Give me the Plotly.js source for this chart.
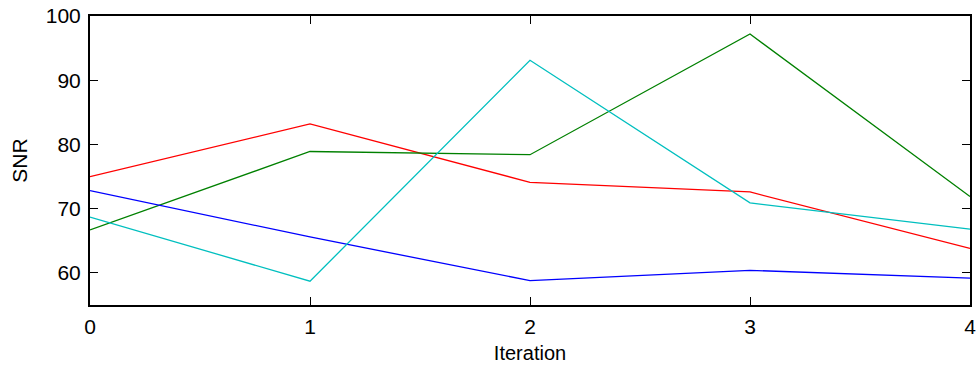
<!DOCTYPE html>
<html><head><meta charset="utf-8">
<script src="https://cdn.plot.ly/plotly-3.0.1.min.js"></script>
<style>html,body{margin:0;padding:0;background:#fff}#chart{width:980px;height:370px}</style>
</head><body><div id="chart"></div>
<script>
const iterations = [0, 1, 2, 3, 4];
const seriesRed = [75.0, 83.2, 74.1, 72.6, 63.8];
const seriesGreen = [66.7, 78.9, 78.4, 97.2, 71.9];
const seriesBlue = [72.8, 65.6, 58.8, 60.4, 59.2];
const seriesCyan = [68.7, 58.7, 93.1, 70.9, 66.8];
const yTicks = [60, 70, 80, 90, 100];

const mk = (y, c) => ({x: iterations, y: y, type: 'scatter', mode: 'lines', line: {color: c, width: 1.3}, hoverinfo: 'skip'});
const data = [mk(seriesRed, '#ff0000'), mk(seriesGreen, '#008000'), mk(seriesBlue, '#0000ff'), mk(seriesCyan, '#00bfbf')];
const fam = 'Liberation Sans, Arial, sans-serif';
const axBase = {showline: true, linecolor: '#000', linewidth: 2, mirror: 'ticks', ticks: 'inside', ticklen: 8, tickcolor: '#000', tickwidth: 1, showgrid: false, zeroline: false, tickfont: {family: fam, size: 21, color: '#000'}};
const layout = {
  width: 980, height: 370, margin: {l: 90, r: 10, t: 16, b: 65},
  paper_bgcolor: '#fff', plot_bgcolor: '#fff', showlegend: false,
  font: {family: fam, color: '#000'},
  xaxis: Object.assign({}, axBase, {range: [0, 4], tickvals: iterations, ticklabelstandoff: 2, title: {text: 'Iteration', font: {family: fam, size: 20, color: '#000'}, standoff: 9}}),
  yaxis: Object.assign({}, axBase, {range: [55, 100], tickvals: yTicks, ticklabelstandoff: 3, title: {text: 'SNR', font: {family: fam, size: 21, color: '#000'}, standoff: 12}})
};
Plotly.newPlot('chart', data, layout, {staticPlot: true});
</script></body></html>
